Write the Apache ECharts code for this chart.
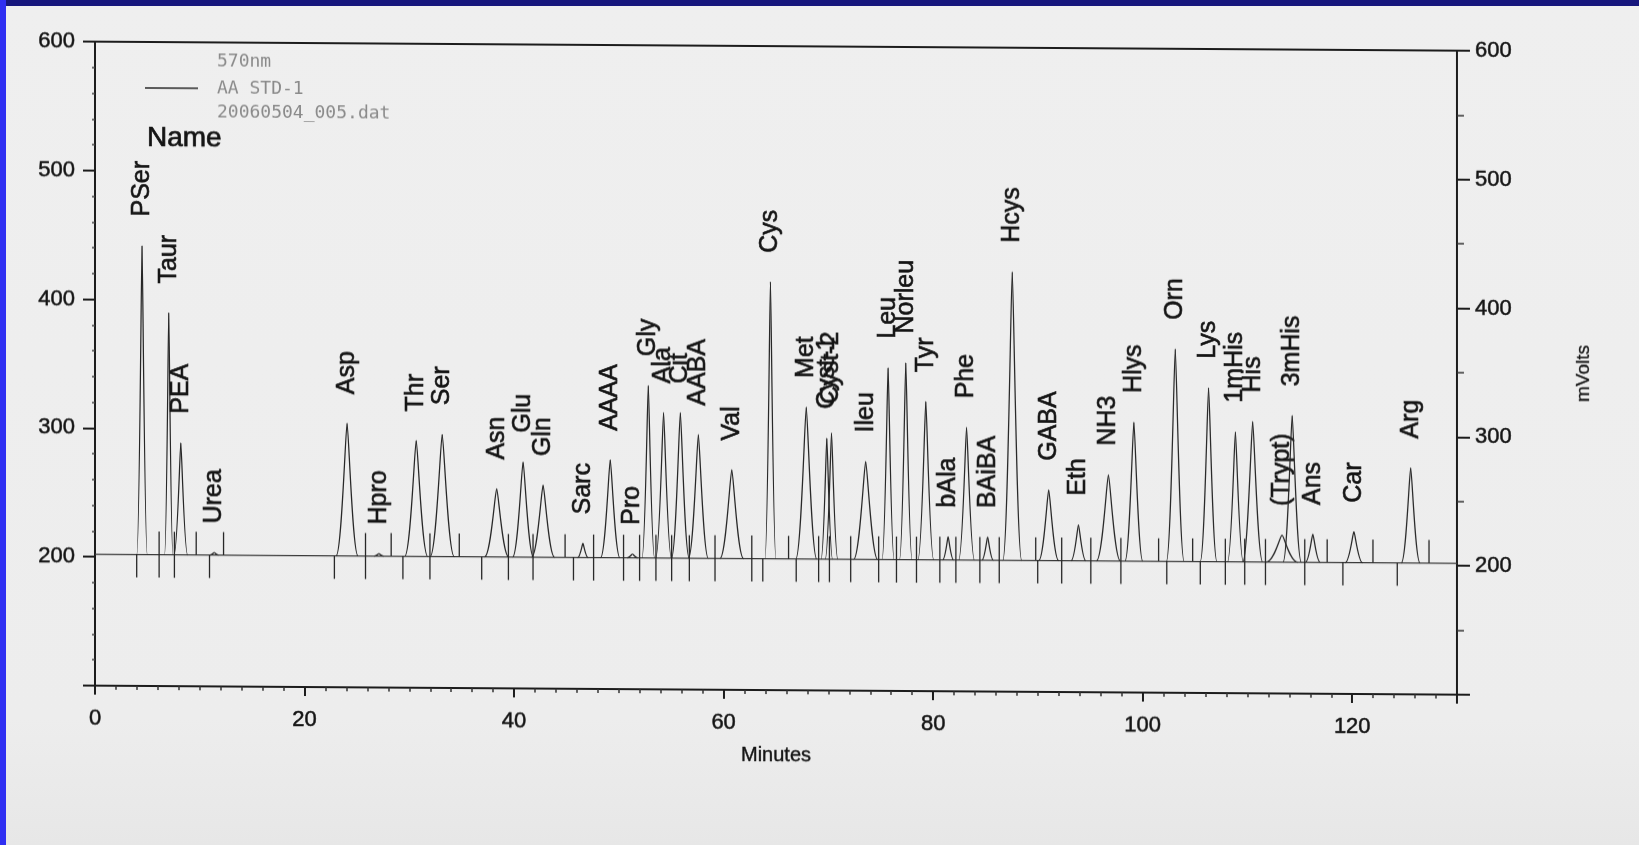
<!DOCTYPE html>
<html>
<head>
<meta charset="utf-8">
<script src="https://cdn.jsdelivr.net/npm/echarts@6.0.0/dist/echarts.min.js"></script>
<style>
html,body{margin:0;padding:0;width:1639px;height:845px;overflow:hidden;
  background:linear-gradient(to bottom,#efefef 0%,#ededed 85%,#e7e7e7 100%);}
#chart{position:absolute;left:0;top:0;width:1639px;height:845px;transform:skewY(0.38deg);transform-origin:0 0;}
#bandTop{position:absolute;left:0;top:0;width:1639px;height:6px;background:#16167c;}
#bandLeft{position:absolute;left:0;top:0;width:6px;height:845px;background:#2f2ff2;}
</style>
</head>
<body>
<div id="chart"></div>
<div id="bandTop"></div>
<div id="bandLeft"></div>
<script>
// ---- data ----
const peakNames = ['PSer','Taur','PEA','Urea','Asp','Hpro','Thr','Ser','Asn','Glu','Gln','Sarc','AAAA','Pro','Gly','Ala','Cit','AABA','Val','Cys','Met','Cyst-1','Cyst-2','Ileu','Leu','Norleu','Tyr','bAla','Phe','BAiBA','Hcys','GABA','Eth','NH3','Hlys','Orn','Lys','1mHis','His','(Trypt)','3mHis','Ans','Car','Arg'];
const peakTimes = [4.49,7.04,8.19,11.38,24.06,27.1,30.66,33.14,38.34,40.86,42.77,46.57,49.18,51.3,52.81,54.27,55.87,57.59,60.78,64.47,67.89,69.85,70.3,73.56,75.7,77.39,79.3,81.43,83.19,85.2,87.55,91.03,93.87,96.73,99.16,103.11,106.29,108.85,110.5,113.3,114.27,116.24,120.16,125.58];
const peakHeights = [442,390,289,204,305,204,292,297,255,276,258,213,278,205,336,315,315,298,271,417,320,296,300,278,351,355,325,220,305,220,426,257,230,269,310,367,337,303,311,223,316,224,226,276];
const peakWidths = [1.0,0.8,1.3,0.8,2.1,0.9,2.2,2.3,2.3,2.0,2.2,1.0,1.85,1.0,1.2,1.5,1.7,1.9,2.26,1.05,2.0,1.1,1.2,2.3,1.15,1.2,1.5,1.05,1.5,1.1,1.8,1.9,1.4,2.3,1.7,1.7,1.6,1.5,1.9,3.0,1.75,1.4,1.65,1.8];
const peakStartMarks = [3.98,6.12,7.58,10.93,22.85,25.82,29.39,31.97,36.91,39.46,41.81,45.67,47.59,50.45,51.98,53.54,55.04,56.73,59.18,62.69,63.74,66.93,69.07,70.1,72.13,74.8,76.5,78.41,80.64,82.17,84.46,86.31,89.98,92.27,95.05,97.92,102.3,105.5,107.89,109.74,111.72,115.47,119.11,124.3];
const peakEndMarks = [6.12,7.58,9.66,12.27,25.82,28.27,31.97,34.77,39.46,41.81,44.87,47.59,50.45,51.98,53.54,55.04,56.73,59.18,62.69,66.2,69.07,70.1,72.13,74.8,76.5,78.41,80.64,82.17,84.46,86.31,89.79,92.27,95.05,97.92,101.52,104.77,107.89,109.74,111.72,115.47,117.61,121.98,127.33];
const baselineLevel = 202;
const runEnd = 130;
const xTickLabels = [0,20,40,60,80,100,120];
const yTickLabels = [200,300,400,500,600];

// ---- chart ----
const FONT = 'Liberation Sans, Arial, Helvetica, sans-serif';
const INK = '#262626';
const TXT = '#141414';
const chart = echarts.init(document.getElementById('chart'), null, {renderer:'canvas'});

const peakData = peakTimes.map((t,i)=>[t - peakWidths[i]/2, t, t + peakWidths[i]/2, peakHeights[i]]);
const markData = peakEndMarks.map(t=>[t,1]).concat(peakStartMarks.map(t=>[t,-1]));

function renderPeak(params, api){
  const tL = api.value(0), tA = api.value(1), tR = api.value(2), h = api.value(3);
  const pL = api.coord([tL, baselineLevel]);
  const pA = api.coord([tA, h]);
  const pR = api.coord([tR, baselineLevel]);
  const dl = pA[0]-pL[0], dr = pR[0]-pA[0];
  const st = {stroke:INK, lineWidth:1.25, fill:'none'};
  return {type:'group', children:[
    {type:'bezierCurve', shape:{x1:pL[0],y1:pL[1],cpx1:pL[0]+0.5*dl,cpy1:pL[1],cpx2:pA[0]-0.12*dl,cpy2:pA[1],x2:pA[0],y2:pA[1]}, style:st},
    {type:'bezierCurve', shape:{x1:pA[0],y1:pA[1],cpx1:pA[0]+0.12*dr,cpy1:pA[1],cpx2:pR[0]-0.5*dr,cpy2:pR[1],x2:pR[0],y2:pR[1]}, style:st},
    {type:'text', x:pA[0], y:pA[1]-29, rotation:Math.PI/2,
      style:{text:peakNames[params.dataIndex], fontSize:25, fontFamily:FONT, fill:TXT,
        stroke:TXT, lineWidth:0.6, align:'left', verticalAlign:'middle'}}
  ]};
}
function renderMark(params, api){
  const p = api.coord([api.value(0), baselineLevel]);
  const dir = api.value(1);
  return {type:'line', shape:{x1:p[0],y1:p[1],x2:p[0],y2:p[1]-dir*23}, style:{stroke:INK, lineWidth:1.3}};
}

const axisLine = {show:true, lineStyle:{color:'#1c1c1c', width:2}};
const tickText = {fontFamily:FONT, fontSize:22, color:TXT, textBorderColor:TXT, textBorderWidth:0.5};
const option = {
  backgroundColor:'transparent',
  animation:false,
  grid:{left:95, top:41, width:1362, height:644, show:true, borderColor:'#1c1c1c', borderWidth:2, backgroundColor:'transparent'},
  legend:{
    data:[{name:'AA STD-1', icon:'rect'}],
    left:145, top:78, padding:0, itemWidth:53, itemHeight:1.5, selectedMode:false,
    textStyle:{color:'#8a8a8a', fontFamily:'DejaVu Sans Mono, monospace', fontSize:18, padding:[0,0,0,14]}
  },
  graphic:[
    {type:'text', x:217, y:60, style:{text:'570nm', fill:'#8a8a8a', fontFamily:'DejaVu Sans Mono, monospace', fontSize:18, verticalAlign:'middle'}},
    {type:'text', x:217, y:111, style:{text:'20060504_005.dat', fill:'#8a8a8a', fontFamily:'DejaVu Sans Mono, monospace', fontSize:18, verticalAlign:'middle'}},
    {type:'text', x:147, y:137, style:{text:'Name', fill:TXT, stroke:TXT, lineWidth:0.7, fontFamily:FONT, fontSize:28, verticalAlign:'middle'}}
  ],
  xAxis:{
    type:'value', min:0, max:runEnd, interval:20,
    name:'Minutes', nameLocation:'middle', nameGap:55,
    nameTextStyle:{fontFamily:FONT, fontSize:20, color:TXT, textBorderColor:TXT, textBorderWidth:0.4},
    axisLine:axisLine,
    axisTick:{show:true, length:9, lineStyle:{color:'#1c1c1c', width:2}},
    minorTick:{show:true, splitNumber:10, length:4, lineStyle:{color:'#333', width:1.5}},
    splitLine:{show:false},
    axisLabel:Object.assign({margin:22, showMaxLabel:false,
      formatter:v=>xTickLabels.includes(v)?String(v):''}, tickText)
  },
  yAxis:[
    {type:'value', position:'left', min:100, max:600, interval:100,
      axisLine:axisLine,
      axisTick:{show:true, length:12, lineStyle:{color:'#1c1c1c', width:2}},
      minorTick:{show:true, splitNumber:5, length:3, lineStyle:{color:'#444', width:1.5}},
      splitLine:{show:false},
      axisLabel:Object.assign({margin:20, showMinLabel:false,
        formatter:v=>yTickLabels.includes(v)?String(v):''}, tickText)
    },
    {type:'value', position:'right', min:100, max:600, interval:100,
      name:'mVolts', nameLocation:'middle', nameGap:117,
      nameTextStyle:{fontFamily:FONT, fontSize:19, color:TXT, textBorderColor:TXT, textBorderWidth:0.3},
      axisLine:axisLine,
      axisTick:{show:true, length:13, lineStyle:{color:'#1c1c1c', width:2}},
      minorTick:{show:true, splitNumber:2, length:7, lineStyle:{color:'#333', width:1.5}},
      splitLine:{show:false},
      axisLabel:Object.assign({margin:18, showMinLabel:false,
        formatter:v=>yTickLabels.includes(v)?String(v):''}, tickText)
    }
  ],
  series:[
    {type:'line', name:'baseline', silent:true, symbol:'none', data:[[0,baselineLevel],[runEnd,baselineLevel]],
      lineStyle:{color:'#3a3a3a', width:1.1}, z:2},
    {type:'custom', name:'AA STD-1', silent:true, renderItem:renderPeak, data:peakData,
      encode:{x:1, y:3}, itemStyle:{color:'#2a2a2a'}, z:3},
    {type:'custom', name:'events', silent:true, renderItem:renderMark, data:markData,
      encode:{x:0}, z:3}
  ]
};
chart.setOption(option);
</script>
</body>
</html>
